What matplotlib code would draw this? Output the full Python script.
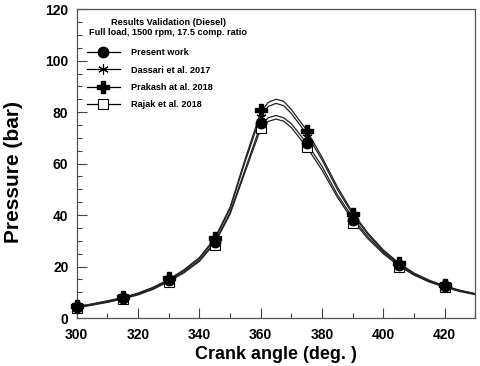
import numpy as np
import matplotlib
matplotlib.use("Agg")
import matplotlib.pyplot as plt
from matplotlib.lines import Line2D
from matplotlib.ticker import MultipleLocator

plt.rcParams['font.family'] = ['Liberation Sans', 'DejaVu Sans']
plt.rcParams['font.weight'] = 'bold'

# curves (crank angle, deg)
ang = [300, 305, 310, 315, 320, 325, 330, 335, 340, 345, 350, 355, 360, 362.5,
       365, 367.5, 370, 375, 380, 385, 390, 395, 400, 405, 410, 415, 420, 425, 430]
p_present = [4.2, 5.2, 6.3, 7.6, 9.3, 11.5, 14.5, 18.0, 22.5, 29.5, 41.0, 58.0, 75.0, 77.8,
             78.7, 77.8, 75.5, 68.0, 59.0, 48.0, 39.0, 31.5, 25.5, 20.8, 17.0, 14.3, 12.3, 10.6, 9.3]
p_dassari = [4.4, 5.4, 6.5, 7.8, 9.5, 11.8, 14.8, 18.5, 23.2, 30.5, 42.5, 61.0, 78.5, 82.2,
             83.4, 82.5, 79.5, 71.5, 61.5, 50.0, 40.3, 32.5, 26.0, 21.2, 17.3, 14.5, 12.4, 10.7, 9.4]
p_prakash = [4.5, 5.5, 6.7, 8.0, 9.7, 12.0, 15.0, 18.8, 23.5, 31.0, 43.0, 62.0, 80.0, 83.8,
             85.0, 84.2, 81.0, 73.0, 62.5, 51.0, 41.0, 33.0, 26.5, 21.5, 17.5, 14.7, 12.5, 10.8, 9.5]
p_rajak = [4.0, 5.0, 6.1, 7.4, 9.0, 11.2, 14.2, 17.6, 22.0, 29.0, 40.3, 57.0, 73.5, 76.4,
           77.3, 76.5, 74.0, 66.5, 57.5, 47.0, 38.0, 30.8, 25.0, 20.3, 16.7, 14.0, 12.0, 10.3, 9.1]

# marker points
ang_pts = [300, 315, 330, 345, 360, 375, 390, 405, 420]
m_present = [4.4, 7.6, 14.7, 29.5, 75.6, 68.0, 38.2, 20.5, 12.4]
m_dassari = [4.3, 7.8, 15.0, 30.5, 78.0, 70.5, 39.5, 21.0, 12.8]
m_prakash = [4.5, 8.0, 15.5, 31.0, 80.8, 72.8, 40.5, 21.5, 13.0]
m_rajak = [4.0, 7.5, 14.0, 28.5, 73.8, 66.3, 37.0, 20.0, 12.0]

labels = ['Present work', 'Dassari et al. 2017', 'Prakash at al. 2018', 'Rajak et al. 2018']
title1 = 'Results Validation (Diesel)'
title2 = 'Full load, 1500 rpm, 17.5 comp. ratio'

fig = plt.figure(figsize=(4.8, 3.66), dpi=100)
ax = fig.add_axes([0.160, 0.131, 0.830, 0.844])

lc = '#222222'
for p in [p_rajak, p_present, p_dassari, p_prakash]:
    ax.plot(ang, p, color=lc, lw=0.9)

ms = 7.5
sty = [dict(marker='o', mfc='black', mec='black', ms=ms),
       dict(marker=(6, 2, 0), mfc='black', mec='black', ms=ms, mew=0.8),
       dict(marker='P', mfc='black', mec='black', ms=ms + 0.5),
       dict(marker='s', mfc='white', mec='black', ms=ms, mew=0.8)]

ax.plot(ang_pts, m_rajak, ls='none', clip_on=False, zorder=3, **sty[3])
ax.plot(ang_pts, m_dassari, ls='none', clip_on=False, zorder=3, **sty[1])
ax.plot(ang_pts, m_present, ls='none', clip_on=False, zorder=3, **sty[0])
ax.plot(ang_pts, m_prakash, ls='none', clip_on=False, zorder=3, **sty[2])

ax.text(0.229, 0.958, title1, transform=ax.transAxes, ha='center', va='center',
        fontsize=6.6, fontweight='bold')
ax.text(0.229, 0.926, title2, transform=ax.transAxes, ha='center', va='center',
        fontsize=6.6, fontweight='bold')

handles = [Line2D([], [], color='black', lw=0.9, **s) for s in sty]
leg = ax.legend(handles, labels, loc='upper left', bbox_to_anchor=(0.025, 0.873),
                frameon=False, prop={'size': 6.6, 'weight': 'bold'}, borderpad=0,
                borderaxespad=0, handlelength=3.6, handletextpad=1.2, labelspacing=0.9)

ax.set_xlim(300, 430)
ax.set_ylim(0, 120)
ax.xaxis.set_major_locator(MultipleLocator(20))
ax.xaxis.set_minor_locator(MultipleLocator(10))
ax.yaxis.set_major_locator(MultipleLocator(20))
ax.yaxis.set_minor_locator(MultipleLocator(5))
ax.tick_params(which='both', direction='in', top=False, right=False, color='#444444')
ax.tick_params(which='major', length=7, width=0.8, labelsize=10, pad=6)
ax.tick_params(axis='x', which='major', pad=7)
ax.tick_params(which='minor', length=3.5, width=0.8)
for lab in ax.get_xticklabels() + ax.get_yticklabels():
    lab.set_fontweight('bold')
for s in ax.spines.values():
    s.set_color('#555555')
    s.set_linewidth(0.9)

ax.set_xlabel('Crank angle (deg. )', fontsize=13, fontweight='bold', labelpad=3)
ax.set_ylabel('Pressure (bar)', fontsize=15, fontweight='bold')
ax.yaxis.set_label_coords(-0.136, 0.474)

fig.savefig('out.png', dpi=100)
